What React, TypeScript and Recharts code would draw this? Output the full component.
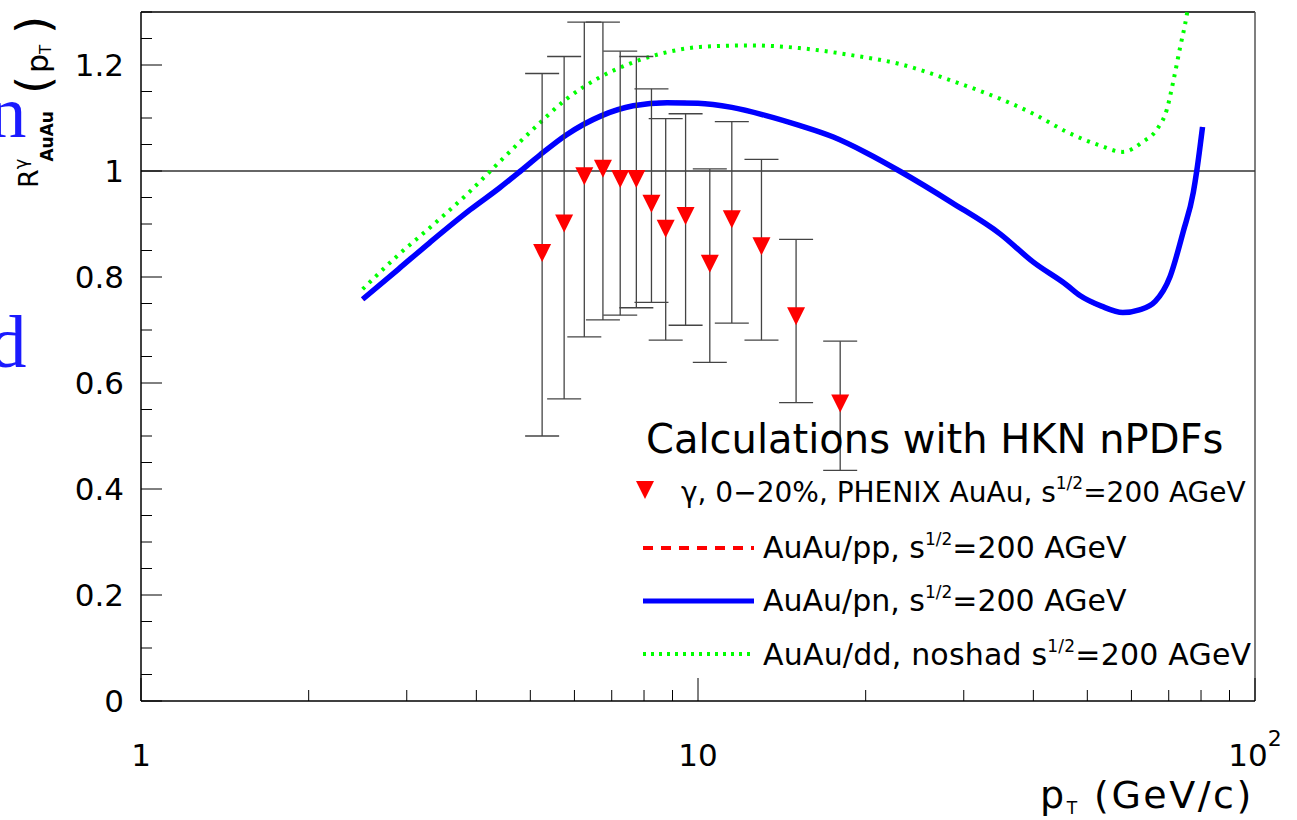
import React from 'react';
import {
  ComposedChart,
  Line,
  Scatter,
  ErrorBar,
  XAxis,
  YAxis,
  ReferenceLine,
} from 'recharts';

// PHENIX gamma, 0-20% AuAu
const dataPt = [5.25, 5.75, 6.25, 6.75, 7.25, 7.75, 8.25, 8.75, 9.5, 10.5, 11.5, 13, 15, 18];
const dataR = [0.847, 0.903, 0.992, 1.006, 0.987, 0.987, 0.94, 0.893, 0.917, 0.827, 0.911, 0.86, 0.728, 0.563];
const dataHigh = [1.184, 1.216, 1.281, 1.281, 1.226, 1.216, 1.155, 1.099, 1.108, 1.004, 1.093, 1.022, 0.871, 0.679];
const dataLow = [0.5, 0.57, 0.687, 0.719, 0.728, 0.742, 0.752, 0.681, 0.709, 0.639, 0.713, 0.681, 0.563, 0.435];

// HKN calculations
const pnPt = [2.5, 2.9, 3.3, 3.9, 4.4, 4.75, 5.2, 5.8, 6.7, 7.65, 8.8, 10, 11.5, 13.2, 15.2, 17.5, 20, 23, 28.6, 34.9, 40, 45.9, 48.5, 53, 57.9, 62, 66.2, 70.4, 74.3, 77.5, 78.6, 80.5];
const pnR = [0.758, 0.815, 0.865, 0.927, 0.968, 0.996, 1.03, 1.068, 1.104, 1.123, 1.129, 1.128, 1.12, 1.105, 1.086, 1.064, 1.035, 1.0, 0.94, 0.881, 0.828, 0.785, 0.765, 0.745, 0.733, 0.738, 0.754, 0.801, 0.885, 0.96, 1.0, 1.083];
const ppR = pnR; // AuAu/pp sits under the AuAu/pn curve

const ddPt = [2.5, 2.9, 3.3, 3.9, 4.4, 5.06, 5.81, 6.67, 7.65, 8.79, 10.08, 12.4, 15.2, 18.75, 23, 28.6, 34.9, 40, 45.9, 52.7, 57.9, 62.9, 66.7, 69.5, 71.3, 73.3, 75.5, 77];
const ddR = [0.777, 0.842, 0.893, 0.962, 1.017, 1.079, 1.136, 1.177, 1.205, 1.224, 1.234, 1.237, 1.232, 1.219, 1.202, 1.17, 1.136, 1.108, 1.074, 1.048, 1.036, 1.055, 1.079, 1.117, 1.168, 1.231, 1.297, 1.36];

const xTicks = [1, 2, 3, 4, 5, 6, 7, 8, 9, 10, 20, 30, 40, 50, 60, 70, 80, 90, 100];
const yTicks = [0, 0.05, 0.1, 0.15, 0.2, 0.25, 0.3, 0.35, 0.4, 0.45, 0.5, 0.55, 0.6, 0.65, 0.7, 0.75, 0.8, 0.85, 0.9, 0.95, 1, 1.05, 1.1, 1.15, 1.2, 1.25, 1.3];
const yLabels = [0, 0.2, 0.4, 0.6, 0.8, 1, 1.2];

const FONT = '"DejaVu Sans", "Liberation Sans", sans-serif';

const points = dataPt.map((x, i) => ({
  x,
  y: dataR[i],
  err: [dataR[i] - dataLow[i], dataHigh[i] - dataR[i]],
}));
const pnData = pnPt.map((x, i) => ({ x, y: pnR[i] }));
const ppData = pnPt.map((x, i) => ({ x, y: ppR[i] }));
const ddData = ddPt.map((x, i) => ({ x, y: ddR[i] }));

const DownTriangle = (props: any) => {
  const { cx, cy } = props;
  if (cx == null || cy == null) return null;
  return <path d={`M${cx - 9},${cy - 8} L${cx + 9},${cy - 8} L${cx},${cy + 10} Z`} fill="#ff0000" />;
};

const YTick = (props: any) => {
  const { x, y, payload } = props;
  const v = payload.value;
  const major = yLabels.some((l) => Math.abs(l - v) < 1e-6);
  return (
    <g>
      <line x1={x} x2={x + (major ? 21 : 11)} y1={y} y2={y} stroke="#000" strokeWidth={1} />
      {major && (
        <text x={x - 17} y={y + 11} textAnchor="end" fontSize={31} fontFamily={FONT} fill="#000">
          {String(v)}
        </text>
      )}
    </g>
  );
};

const XTick = (props: any) => {
  const { x, y, payload } = props;
  const v = payload.value;
  const major = v === 1 || v === 10 || v === 100;
  return (
    <g>
      <line x1={x} x2={x} y1={y} y2={y - (major ? 23 : 11)} stroke="#000" strokeWidth={1} />
      {major && (
        <text x={x} y={y + 65} textAnchor="middle" fontSize={31} fontFamily={FONT} fill="#000">
          {v === 100 ? (
            <>
              10<tspan dy={-20} fontSize={22}>2</tspan>
            </>
          ) : (
            String(v)
          )}
        </text>
      )}
    </g>
  );
};

const sup = (t: string) => (
  <tspan dy={-13} fontSize={17}>{t}</tspan>
);

const Overlay = () => (
  <svg
    width={1297}
    height={820}
    style={{ position: 'absolute', left: 0, top: 0, pointerEvents: 'none' }}
    fontFamily={FONT}
  >
    {/* clipped letters from a neighbouring panel */}
    <text x={-11} y={137} fontSize={75} fontFamily='"Liberation Serif", serif' fill="#1a1aff">n</text>
    <text x={-11} y={367} fontSize={75} fontFamily='"Liberation Serif", serif' fill="#1a1aff">d</text>

    {/* y title */}
    <g transform="translate(38,188) rotate(-90)">
      <text x={0} y={0} fontSize={27} fill="#000">
        R<tspan dy={-11} fontSize={18}>γ</tspan>
        <tspan dy={26} dx={-3} fontSize={17} fontWeight="bold">AuAu</tspan>
      </text>
      <text x={94} y={11} fontSize={47} fill="#000">(</text>
      <text x={115} y={10} fontSize={30} fill="#000">
        p<tspan dy={3} fontSize={15}>T</tspan>
      </text>
      <text x={154} y={11} fontSize={47} fill="#000">)</text>
    </g>

    {/* x title */}
    <text x={1040} y={808} fontSize={38} letterSpacing={2.5} fill="#000">
      p<tspan dy={6} fontSize={17}>T</tspan>
      <tspan dy={-6}> (GeV/c)</tspan>
    </text>

    {/* legend */}
    <text x={646} y={453} fontSize={40} fill="#000">Calculations with HKN nPDFs</text>

    <path d="M636,481 L654,481 L645,499 Z" fill="#ff0000" />
    <text x={681} y={502} fontSize={28} fill="#000">
      γ, 0−20%, PHENIX AuAu, s{sup('1/2')}<tspan dy={13}>=200 AGeV</tspan>
    </text>

    <line x1={643} x2={754} y1={548} y2={548} stroke="#ff0000" strokeWidth={4} strokeDasharray="10 8" />
    <text x={763} y={558} fontSize={30} fill="#000">
      AuAu/pp, s{sup('1/2')}<tspan dy={13}>=200 AGeV</tspan>
    </text>

    <line x1={643} x2={754} y1={601} y2={601} stroke="#0000ff" strokeWidth={5} />
    <text x={763} y={611} fontSize={30} fill="#000">
      AuAu/pn, s{sup('1/2')}<tspan dy={13}>=200 AGeV</tspan>
    </text>

    <line x1={643} x2={754} y1={654} y2={654} stroke="#00ff00" strokeWidth={4} strokeDasharray="3 5" />
    <text x={763} y={665} fontSize={30} letterSpacing={0.2} fill="#000">
      AuAu/dd, noshad s{sup('1/2')}<tspan dy={13}>=200 AGeV</tspan>
    </text>
  </svg>
);

export default function App() {
  return (
    <div style={{ position: 'absolute', left: 0, top: 0, width: 1297, height: 820, background: '#fff' }}>
      <ComposedChart width={1297} height={820} margin={{ top: 12, right: 42, bottom: 0, left: 0 }}>
        <XAxis
          dataKey="x"
          type="number"
          scale="log"
          domain={[1, 100]}
          allowDataOverflow
          ticks={xTicks}
          interval={0}
          height={119}
          tickSize={0}
          tickMargin={0}
          tickLine={false}
          axisLine={{ stroke: '#000', strokeWidth: 1.5 }}
          tick={<XTick />}
        />
        <YAxis
          dataKey="y"
          type="number"
          domain={[0, 1.3]}
          allowDataOverflow
          ticks={yTicks}
          interval={0}
          width={141}
          tickSize={0}
          tickMargin={0}
          tickLine={false}
          axisLine={{ stroke: '#000', strokeWidth: 1.5 }}
          tick={<YTick />}
        />
        <ReferenceLine y={1.3} stroke="#000" strokeWidth={1.5} />
        <ReferenceLine x={100} stroke="#555" strokeWidth={1.5} />
        <ReferenceLine y={1} stroke="#333" strokeWidth={1.5} />
        <Line
          data={ppData}
          dataKey="y"
          type="monotone"
          stroke="#ff0000"
          strokeWidth={4}
          strokeDasharray="10 8"
          dot={false}
          isAnimationActive={false}
        />
        <Line
          data={pnData}
          dataKey="y"
          type="monotone"
          stroke="#0000ff"
          strokeWidth={5.5}
          dot={false}
          isAnimationActive={false}
        />
        <Line
          data={ddData}
          dataKey="y"
          type="monotone"
          stroke="#00ff00"
          strokeWidth={4}
          strokeDasharray="3 6"
          dot={false}
          isAnimationActive={false}
        />
        <Scatter data={points} dataKey="y" shape={<DownTriangle />} isAnimationActive={false}>
          <ErrorBar dataKey="err" direction="y" width={17} stroke="#444" strokeWidth={1.3} />
        </Scatter>
      </ComposedChart>
      <Overlay />
    </div>
  );
}
